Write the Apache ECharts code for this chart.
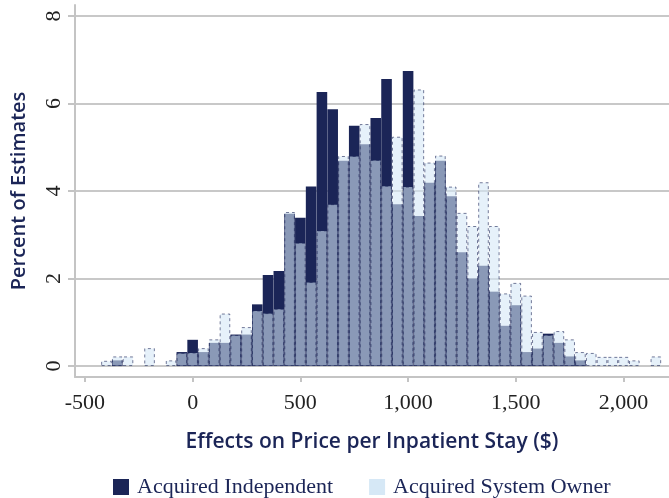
<!DOCTYPE html>
<html>
<head>
<meta charset="utf-8">
<script src="https://cdn.jsdelivr.net/npm/echarts@6/dist/echarts.min.js"></script>
<style>
  html, body { margin: 0; padding: 0; background: #fff; }
  #hist { width: 669px; height: 498px; }
</style>
</head>
<body>
<div id="hist"></div>
<script>
// bin centres ($), bins are 50 wide
var bins = [-400, -350, -300, -250, -200, -150, -100, -50, 0, 50, 100, 150, 200, 250,
  300, 350, 400, 450, 500, 550, 600, 650, 700, 750, 800, 850, 900, 950, 1000, 1050,
  1100, 1150, 1200, 1250, 1300, 1350, 1400, 1450, 1500, 1550, 1600, 1650, 1700, 1750,
  1800, 1850, 1900, 1950, 2000, 2050, 2100, 2150];

// percent of estimates
var independent = [0, 0.13, 0, 0, 0, 0, 0, 0.32, 0.6, 0.32, 0.53, 0.53, 0.72, 0.72,
  1.41, 2.08, 2.17, 3.48, 3.39, 4.1, 6.26, 5.87, 4.69, 5.49, 5.07, 5.67, 6.56, 3.7, 6.74, 3.43,
  4.19, 4.69, 3.88, 2.6, 2.0, 2.29, 1.7, 0.92, 1.39, 0.32, 0.4, 0.74, 0.53, 0.22,
  0.13, 0, 0, 0, 0, 0, 0, 0];
var systemOwner = [0.12, 0.22, 0.22, 0, 0.41, 0, 0.13, 0.3, 0.31, 0.41, 0.61, 1.2, 0.71, 0.89,
  1.27, 1.21, 1.31, 3.52, 2.82, 1.92, 3.1, 3.7, 4.8, 4.8, 5.53, 4.71, 4.12, 5.24, 4.1, 6.32,
  4.65, 4.81, 4.1, 3.5, 3.2, 4.2, 3.2, 1.66, 1.9, 1.61, 0.78, 0.71, 0.8, 0.61,
  0.32, 0.3, 0.21, 0.21, 0.21, 0.13, 0, 0.22];

var xTicks = [-500, 0, 500, 1000, 1500, 2000];
var yTicks = [0, 2, 4, 6, 8];

function pairs(vals) {
  return bins.map(function (b, i) {
    return vals[i] > 0 ? [b, vals[i]] : [b, '-'];
  });
}

var navy = '#1b2557';
var serif = '"Liberation Serif", "DejaVu Serif", serif';
var sans = '"Open Sans", Lato, sans-serif';

var chart = echarts.init(document.getElementById('hist'));

var option = {
  animation: false,
  grid: { left: 75, right: 0, top: 5, bottom: 121 },
  legend: {
    bottom: -5,
    left: 108,
    itemWidth: 16,
    itemHeight: 16,
    itemGap: 36,
    textStyle: { fontFamily: serif, fontSize: 22, color: navy, padding: [0, 0, 0, 3] },
    data: [
      { name: 'Acquired Independent', icon: 'rect', itemStyle: { color: navy, borderWidth: 0 } },
      { name: 'Acquired System Owner', icon: 'rect', itemStyle: { color: '#d6e8f6', borderWidth: 0, opacity: 1 } }
    ]
  },
  xAxis: {
    type: 'value',
    min: -546,
    max: 2211,
    name: 'Effects on Price per Inpatient Stay ($)',
    nameLocation: 'middle',
    nameGap: 55,
    nameTextStyle: { fontFamily: sans, fontWeight: 600, fontSize: 21, color: navy },
    axisLine: { show: true, onZero: false, lineStyle: { color: '#c4c4c4', width: 2 } },
    axisTick: { show: true, length: 5, customValues: xTicks, lineStyle: { color: '#c4c4c4', width: 2 } },
    axisLabel: {
      customValues: xTicks,
      margin: 15,
      fontFamily: serif,
      fontSize: 22,
      color: '#222',
      formatter: function (v) { return v.toLocaleString('en-US'); }
    },
    splitLine: { show: false }
  },
  yAxis: {
    type: 'value',
    min: -0.25,
    max: 8.25,
    name: 'Percent of Estimates',
    nameLocation: 'middle',
    nameGap: 46,
    nameTextStyle: { fontFamily: sans, fontWeight: 600, fontSize: 20, color: navy },
    axisLine: { show: true, onZero: false, lineStyle: { color: '#c4c4c4', width: 2 } },
    axisTick: { show: true, length: 7, customValues: yTicks, lineStyle: { color: '#c4c4c4', width: 2 } },
    axisLabel: {
      customValues: yTicks,
      rotate: 90,
      margin: 10,
      fontFamily: serif,
      fontSize: 22,
      color: '#222'
    },
    splitLine: { show: true, lineStyle: { color: '#c8c8c8', width: 2 } }
  },
  series: [
    {
      name: 'Acquired Independent',
      type: 'bar',
      barWidth: 10.6,
      barGap: '-100%',
      itemStyle: { color: navy },
      data: pairs(independent)
    },
    {
      name: 'Acquired System Owner',
      type: 'bar',
      barWidth: 10.6,
      barGap: '-100%',
      itemStyle: {
        color: '#d6e8f6',
        opacity: 0.6,
        borderColor: navy,
        borderWidth: 1,
        borderType: [3, 3]
      },
      data: pairs(systemOwner)
    }
  ]
};

chart.setOption(option);
</script>
</body>
</html>
